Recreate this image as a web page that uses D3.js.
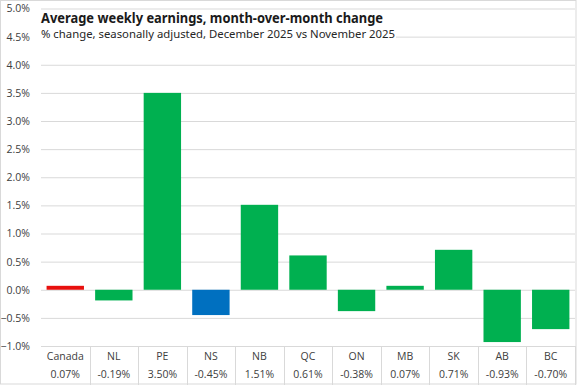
<!DOCTYPE html>
<html><head><meta charset="utf-8">
<script src="https://cdn.jsdelivr.net/npm/d3@7"></script>
<style>body{margin:0;background:#fff;} svg{display:block;}</style>
</head><body>
<script>
const categories = ["Canada","NL","PE","NS","NB","QC","ON","MB","SK","AB","BC"];
const values = [0.07,-0.19,3.50,-0.45,1.51,0.61,-0.38,0.07,0.71,-0.93,-0.70];
const valueLabels = ["0.07%","-0.19%","3.50%","-0.45%","1.51%","0.61%","-0.38%","0.07%","0.71%","-0.93%","-0.70%"];
const yTicks = [-1.0,-0.5,0.0,0.5,1.0,1.5,2.0,2.5,3.0,3.5,4.0,4.5,5.0];
const colors = {Canada:"#e8100e", NS:"#0070c0", other:"#00b050"};

(function(){
const W=577,H=385;
const svg=d3.select("body").append("svg").attr("width",W).attr("height",H);
svg.append("rect").attr("x",0.5).attr("y",0.5).attr("width",W-1.5).attr("height",H-1.5)
  .attr("fill","#fff").attr("stroke","#d9d9d9");

const pl=41,pr=575,pt=8.5,pb=346;
const x=d3.scaleBand().domain(categories).range([pl,pr]).paddingInner(0.23).paddingOuter(0.115);
const xb=d3.scaleBand().domain(categories).range([pl,pr]);
const y=d3.scaleLinear().domain([-1,5]).range([pb,pt]);

const font="'Open Sans', 'Noto Sans', sans-serif";
const yAxis=d3.axisLeft(y).tickValues(yTicks).tickFormat(d=>d3.format(".1f")(d)+"%").tickSize(-(pr-pl)).tickPadding(11);
const ga=svg.append("g").attr("transform",`translate(${pl},0)`).call(yAxis);
ga.select(".domain").remove();
ga.selectAll("line").attr("stroke","#d9d9d9").attr("stroke-width",1);
ga.selectAll("text").attr("fill","#404040").style("font-family",font).style("font-size","10.5px");

svg.append("g").selectAll("rect").data(categories).join("rect")
  .attr("x",d=>x(d)).attr("width",x.bandwidth())
  .attr("y",(d,i)=>y(Math.max(0,values[i])))
  .attr("height",(d,i)=>Math.abs(y(values[i])-y(0)))
  .attr("fill",d=>d==="Canada"?colors.Canada:(d==="NS"?colors.NS:colors.other));

const tb=svg.append("g");
tb.selectAll("line").data(categories).join("line")
  .attr("x1",d=>Math.round(xb(d)+xb.bandwidth())+0.5).attr("x2",d=>Math.round(xb(d)+xb.bandwidth())+0.5)
  .attr("y1",pb).attr("y2",H).attr("stroke","#d9d9d9");
tb.selectAll("text.cat").data(categories).join("text").attr("class","cat")
  .attr("x",d=>xb(d)+xb.bandwidth()/2).attr("y",360).attr("text-anchor","middle")
  .attr("fill","#404040").style("font-family",font).style("font-size","10.5px").text(d=>d);
tb.selectAll("text.val").data(categories).join("text").attr("class","val")
  .attr("x",d=>xb(d)+xb.bandwidth()/2).attr("y",378).attr("text-anchor","middle")
  .attr("fill","#404040").style("font-family",font).style("font-size","10.5px").text((d,i)=>valueLabels[i]);

svg.append("rect").attr("x",38).attr("y",10).attr("width",358).attr("height",30).attr("fill","#fff");
svg.append("text").attr("x",41).attr("y",22.5).attr("fill","#1a1a1a")
  .style("font-family","'Noto Sans', sans-serif").style("font-weight","bold").style("font-size","14px")
  .attr("textLength",342).attr("lengthAdjust","spacingAndGlyphs")
  .text("Average weekly earnings, month-over-month  change");
svg.append("text").attr("x",41).attr("y",37.5).attr("fill","#262626")
  .style("font-family","'Noto Sans', sans-serif").style("font-size","10.5px")
  .attr("textLength",354).attr("lengthAdjust","spacingAndGlyphs")
  .text("% change, seasonally adjusted, December 2025 vs November 2025");
})();
</script>
</body></html>
